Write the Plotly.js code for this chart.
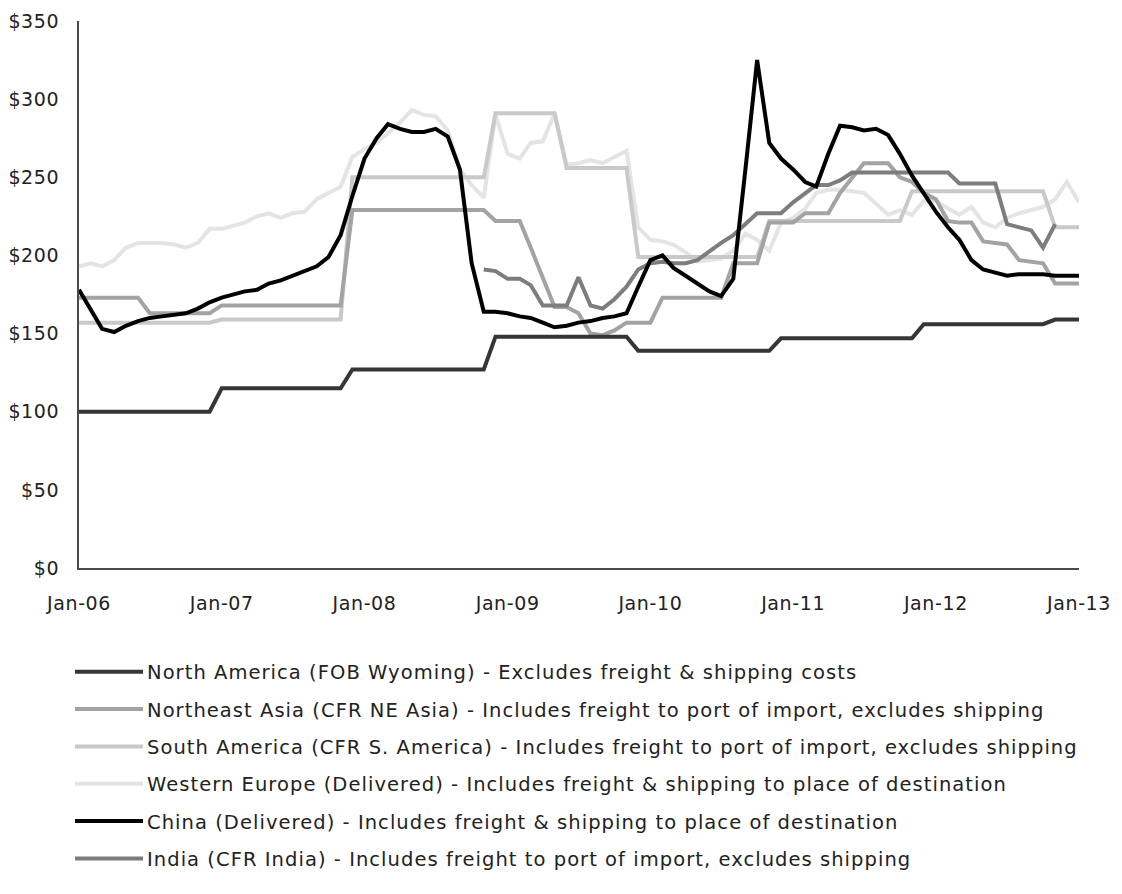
<!DOCTYPE html>
<html>
<head>
<meta charset="utf-8">
<script src="https://cdn.plot.ly/plotly-3.0.1.min.js"></script>
<style>
  html, body { margin: 0; padding: 0; background: #ffffff; }
  #chart { width: 1122px; height: 894px; }
  #chart .legendtext { letter-spacing: 1.05px; }
  #chart .xtick text, #chart .ytick text { letter-spacing: 0.6px; }
</style>
</head>
<body>
<div id="chart"></div>
<script>
// Monthly series, Jan-06 .. Jan-13 (85 months)
var startYear = 2006;
var monthCount = 85;

var northAmerica = [
  100,100,100,100,100,100,100,100,100,100,100,100,
  115,115,115,115,115,115,115,115,115,115,115,
  127,127,127,127,127,127,127,127,127,127,127,127,
  148,148,148,148,148,148,148,148,148,148,148,148,
  139,139,139,139,139,139,139,139,139,139,139,139,
  147,147,147,147,147,147,147,147,147,147,147,147,
  156,156,156,156,156,156,156,156,156,156,156,
  159,159,159
];

var northeastAsia = [
  173,173,173,173,173,173,
  163,163,163,163,163,163,
  168,168,168,168,168,168,168,168,168,168,168,
  229,229,229,229,229,229,229,229,229,229,229,229,
  222,222,222,
  205,185,167,167,163,150,149,152,157,157,157,
  173,173,173,173,173,173,
  195,195,195,
  221,221,221,227,227,227,
  240,250,259,259,259,250,247,240,236,222,221,221,209,208,207,197,196,195,182,182,182
];

var southAmerica = [
  157,157,157,157,157,157,157,157,157,157,157,157,
  159,159,159,159,159,159,159,159,159,159,159,
  250,250,250,250,250,250,250,250,250,250,250,250,
  291,291,291,291,291,291,
  256,256,256,256,256,256,
  199,199,199,199,199,199,199,199,199,199,199,
  222,222,222,222,222,222,222,222,222,222,222,222,
  241,241,241,241,241,241,241,241,241,241,241,241,
  218,218,218
];

var westernEurope = [
  193,195,193,197,205,208,208,208,207,205,
  208,217,217,219,221,225,227,224,227,228,
  236,240,244,263,268,272,278,285,293,290,
  289,280,255,245,237,290,265,262,272,273,
  291,258,259,261,259,263,267,218,210,209,
  207,202,196,197,198,203,214,210,203,221,
  224,230,240,242,242,241,240,233,226,229,
  226,235,235,230,226,231,221,218,224,227,
  229,231,236,247,234
];

var china = [
  178,165,153,151,155,158,160,161,162,163,
  166,170,173,175,177,178,182,184,187,190,
  193,199,213,238,262,275,284,281,279,279,
  281,276,255,195,164,164,163,161,160,157,
  154,155,157,158,160,161,163,180,197,200,
  192,187,182,177,174,185,255,325,272,262,
  255,247,244,265,283,282,280,281,277,265,
  251,240,228,218,210,197,191,189,187,188,
  188,188,187,187,187
];

// India starts Nov-08 (month index 34) and ends Nov-12
var indiaStartIndex = 34;
var india = [
  191,190,185,185,181,168,168,168,186,168,
  166,172,180,191,195,196,195,195,197,203,
  208,213,220,227,227,227,234,240,245,245,
  248,253,253,253,253,253,253,253,253,253,
  246,246,246,246,220,218,216,205,220
];

var tickLabels = ['Jan-06','Jan-07','Jan-08','Jan-09','Jan-10','Jan-11','Jan-12','Jan-13'];
var tickYears = [2006,2007,2008,2009,2010,2011,2012,2013];
var yTicks = [0,50,100,150,200,250,300,350];

var seriesNames = [
  'North America (FOB Wyoming) - Excludes freight & shipping costs',
  'Northeast Asia (CFR NE Asia) - Includes freight to port of import, excludes shipping',
  'South America (CFR S. America) - Includes freight to port of import, excludes shipping',
  'Western Europe (Delivered) - Includes freight & shipping to place of destination',
  'China (Delivered) - Includes freight & shipping to place of destination',
  'India (CFR India) - Includes freight to port of import, excludes shipping'
];
var seriesColors = ['#363636','#a3a3a3','#c9c9c9','#e4e4e4','#000000','#7d7d7d'];

function monthDate(i) {
  var y = startYear + Math.floor(i / 12);
  var m = (i % 12) + 1;
  return y + '-' + (m < 10 ? '0' + m : m) + '-01';
}
var dates = [];
for (var i = 0; i < monthCount; i++) dates.push(monthDate(i));
var indiaDates = [];
for (var j = 0; j < india.length; j++) indiaDates.push(monthDate(indiaStartIndex + j));

function tr(idx, x, y) {
  return {
    type: 'scatter', mode: 'lines', x: x, y: y,
    name: seriesNames[idx],
    legendrank: idx + 1,
    legendgroup: 'g' + idx,
    line: { color: seriesColors[idx], width: 4, shape: 'linear' },
    hoverinfo: 'skip'
  };
}

var data = [
  tr(3, dates, westernEurope),
  tr(2, dates, southAmerica),
  tr(1, dates, northeastAsia),
  tr(0, dates, northAmerica),
  tr(5, indiaDates, india),
  tr(4, dates, china)
];

var font = 'DejaVu Sans, Arial, sans-serif';

var layout = {
  width: 1122, height: 894,
  margin: { l: 79, r: 43, t: 21, b: 326 },
  paper_bgcolor: '#ffffff', plot_bgcolor: '#ffffff',
  font: { family: font, size: 18, color: '#222222' },
  showlegend: true,
  xaxis: {
    type: 'date',
    range: ['2006-01-01', '2013-01-01'],
    tickvals: tickYears.map(function (y) { return y + '-01-01'; }),
    ticktext: tickLabels,
    showgrid: false, zeroline: false,
    showline: true, linecolor: '#4a4a4a', linewidth: 2,
    ticks: 'outside', ticklen: 17, tickcolor: 'rgba(0,0,0,0)',
    tickfont: { family: font, size: 19, color: '#222222' }
  },
  yaxis: {
    range: [0, 350],
    tickvals: yTicks,
    ticktext: yTicks.map(function (v) { return '$' + v; }),
    showgrid: false, zeroline: false,
    showline: true, linecolor: '#4a4a4a', linewidth: 2,
    ticks: 'outside', ticklen: 14, tickcolor: 'rgba(0,0,0,0)',
    tickfont: { family: font, size: 19, color: '#222222' }
  },
  legend: {
    orientation: 'v',
    x: -0.014, xanchor: 'left',
    y: -0.1545, yanchor: 'top',
    font: { family: font, size: 19.5, color: '#222222' },
    tracegroupgap: 9,
    bgcolor: 'rgba(0,0,0,0)',
    itemwidth: 72
  }
};

Plotly.newPlot('chart', data, layout, { displayModeBar: false, staticPlot: true }).then(function (gd) {
  // lengthen the legend line samples to match the original style
  var paths = gd.querySelectorAll('.legendlines path');
  for (var k = 0; k < paths.length; k++) paths[k].setAttribute('d', 'M10,0h68');
  // letter-spacing widens the legend text beyond the computed clip box
  var boxes = gd.querySelectorAll('.legend .scrollbox, .legend');
  for (var b = 0; b < boxes.length; b++) boxes[b].removeAttribute('clip-path');
});
</script>
</body>
</html>
